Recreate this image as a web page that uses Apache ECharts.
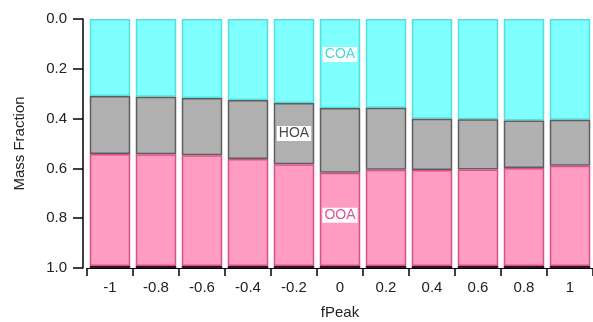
<!DOCTYPE html>
<html>
<head>
<meta charset="utf-8">
<script src="https://cdn.jsdelivr.net/npm/echarts@6/dist/echarts.min.js"></script>
<style>html,body{margin:0;padding:0;background:#fff}#c{width:593px;height:322px}</style>
</head>
<body>
<div id="c"></div>
<script>
var categories = ['-1','-0.8','-0.6','-0.4','-0.2','0','0.2','0.4','0.6','0.8','1'];
var COA   = [0.309,0.312,0.317,0.325,0.337,0.357,0.356,0.401,0.403,0.408,0.405];
var HOA   = [0.233,0.231,0.230,0.237,0.246,0.260,0.249,0.205,0.201,0.190,0.184];
var OOA   = [0.450,0.449,0.445,0.430,0.409,0.375,0.387,0.386,0.388,0.394,0.403];
var OTHER = [0.008,0.008,0.008,0.008,0.008,0.008,0.008,0.008,0.008,0.008,0.008];

var font = '"Liberation Sans", Arial, sans-serif';
function withLabel(arr, idx, text, color, offset){
  return arr.map(function(v,i){
    if(i!==idx) return v;
    return {value:v, label:{show:true, position:'inside', formatter:text, color:color,
      backgroundColor:'#fff', padding:[1,2,0,2], fontSize:14, fontFamily:font, offset:offset}};
  });
}
var chart = echarts.init(document.getElementById('c'));
chart.setOption({
  animation:false,
  grid:{left:87, right:0, top:19, bottom:54, containLabel:false, outerBoundsMode:'none'},
  xAxis:{type:'category', data:categories,
    axisLine:{show:true, onZero:false, lineStyle:{color:'#000', width:1}},
    axisTick:{show:true, length:8, lineStyle:{color:'#000', width:1.5}},
    axisLabel:{color:'#222', fontSize:15, fontFamily:font, margin:12},
    name:'fPeak', nameLocation:'middle', nameGap:37,
    nameTextStyle:{color:'#222', fontSize:15, fontFamily:font}},
  yAxis:{type:'value', inverse:true, min:0, max:1, interval:0.2, offset:4,
    axisLine:{show:true, onZero:false, lineStyle:{color:'#000', width:1.5}},
    axisTick:{show:true, length:10, lineStyle:{color:'#000', width:1.5}},
    splitLine:{show:false},
    axisLabel:{color:'#222', fontSize:15, fontFamily:font, margin:16,
      formatter:function(v){return v.toFixed(1);}},
    name:'Mass Fraction', nameLocation:'middle', nameGap:56,
    nameTextStyle:{color:'#222', fontSize:15, fontFamily:font}},
  series:[
    {type:'bar', stack:'a', barCategoryGap:'12%',
     data:withLabel(COA,5,'COA','#44d6d6',[0,-9]),
     itemStyle:{color:'#80ffff', borderColor:'#55dede', borderWidth:1.5}},
    {type:'bar', stack:'a', barCategoryGap:'12%',
     data:withLabel(HOA,4,'HOA','#4a4a4a',[0,0]),
     itemStyle:{color:'#b0b0b0', borderColor:'#5e5e5e', borderWidth:1.5}},
    {type:'bar', stack:'a', barCategoryGap:'12%',
     data:withLabel(OOA,5,'OOA','#d9559a',[0,-4]),
     itemStyle:{color:'#ff9cc0', borderColor:'#d8508a', borderWidth:1.5}},
    {type:'bar', stack:'a', barCategoryGap:'12%', data:OTHER,
     itemStyle:{color:'#3a0f20'}}
  ]
});
</script>
</body>
</html>
